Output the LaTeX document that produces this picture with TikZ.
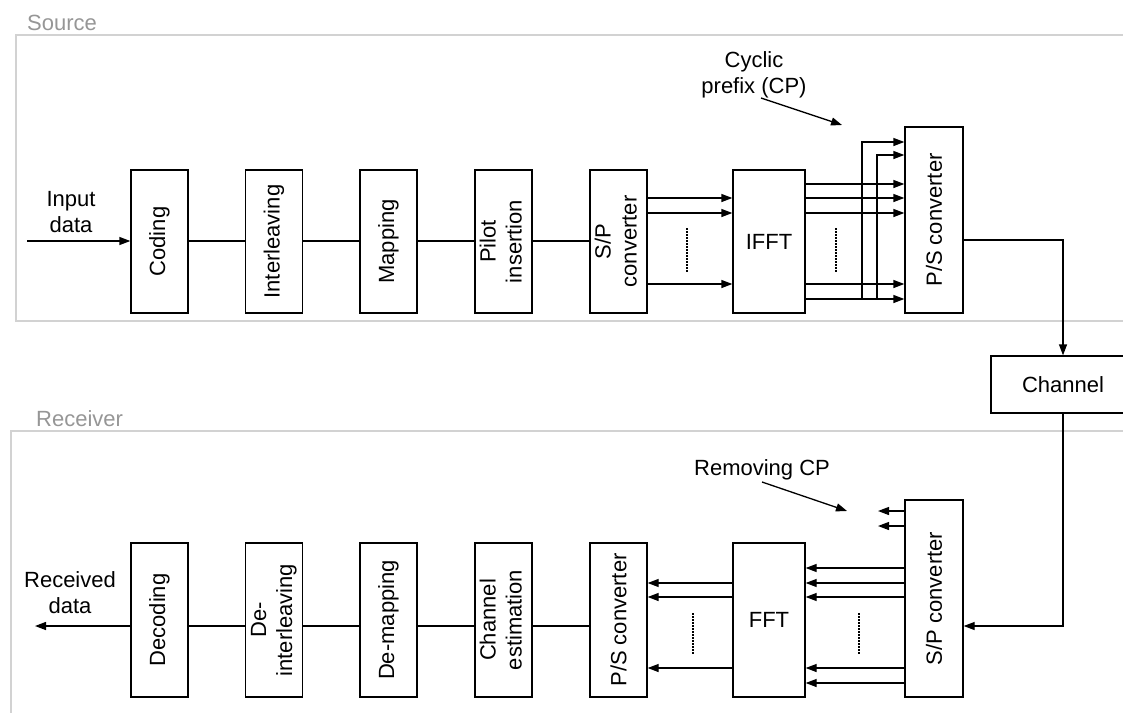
\documentclass[tikz,border=0pt]{standalone}
\usepackage{fontspec}
\setmainfont{Liberation Sans}
\usetikzlibrary{arrows.meta}
\definecolor{framegray}{RGB}{210,210,210}
\definecolor{labelgray}{RGB}{150,150,150}
\newcommand\twol[2]{\begin{tabular}[b]{@{}c@{}}#1\\#2\end{tabular}}
\begin{document}
\begin{tikzpicture}[x=1pt,y=-1pt,
  every node/.style={font=\fontsize{22}{26}\selectfont},
  blk/.style={draw, line width=1.3pt, fill=white, inner sep=0pt, minimum width=57pt},
  ln/.style={line width=1.3pt},
  arr/.style={line width=1.3pt, -{Triangle[length=11pt,width=8pt]}},
  frm/.style={draw=framegray, line width=1.5pt},
  dots/.style={line width=1.3pt, dash pattern=on 1.5pt off 1.5pt},
]
\useasboundingbox (0,0) rectangle (1123,712);
\clip (0,0) rectangle (1123,712);
% frames
\draw[frm] (16,35) rectangle (1160,321);
\draw[frm] (11,431) rectangle (1160,760);
\node[text=labelgray, anchor=base west, inner sep=0] (srclab) at (27,30) {Source};
\node[text=labelgray, anchor=base west, inner sep=0] (rcvlab) at (36,426) {Receiver};
\coordinate (yA) at (0,241);
\coordinate (yB) at (0,626);
% transmitter blocks
\node[blk, minimum height=143pt] (coding) at (159.5,241.5) {\rotatebox{90}{Coding}};
\node[blk, minimum height=143pt] (inter) at (274,241.5) {\rotatebox{90}{Interleaving}};
\node[blk, minimum height=143pt] (mapping) at (388.5,241.5) {\rotatebox{90}{Mapping}};
\node[blk, minimum height=143pt] (pilot) at (503.5,241.5) {\rotatebox{90}{\twol{Pilot}{insertion}}};
\node[blk, minimum height=143pt] (sp) at (618.5,241.5) {\rotatebox{90}{\twol{S/P}{converter}}};
\node[blk, minimum height=143pt, minimum width=72pt] (ifft) at (769,241.5) {IFFT};
\node[blk, minimum height=186pt, minimum width=58pt] (ps) at (934,220) {\rotatebox{90}{P/S converter}};
% channel
\node[blk, minimum height=57pt, minimum width=144pt] (chan) at (1063,384.5) {Channel};
% receiver blocks
\node[blk, minimum height=154pt] (decoding) at (159.5,620) {\rotatebox{90}{Decoding}};
\node[blk, minimum height=154pt] (deinter) at (274,620) {\rotatebox{90}{\twol{De-}{interleaving}}};
\node[blk, minimum height=154pt] (demap) at (388.5,620) {\rotatebox{90}{De-mapping}};
\node[blk, minimum height=154pt] (chest) at (503.5,620) {\rotatebox{90}{\twol{Channel}{estimation}}};
\node[blk, minimum height=154pt] (ps2) at (618.5,620) {\rotatebox{90}{P/S converter}};
\node[blk, minimum height=154pt, minimum width=72pt] (fft) at (769,620) {FFT};
\node[blk, minimum height=197pt, minimum width=58pt] (sp2) at (934,598.5) {\rotatebox{90}{S/P converter}};
% labels
\node[anchor=base, inner sep=0] (inlab) at (71,232) {\twol{Input}{data}};
\node[anchor=base, inner sep=0] (outlab) at (70,613) {\twol{Received}{data}};
\node[anchor=base, inner sep=0] (cplab) at (754,93) {\twol{Cyclic}{prefix (CP)}};
\node[anchor=base, inner sep=0] (rmlab) at (762,475) {Removing CP};
% transmitter connections
\coordinate (instart) at (27,241);
\draw[arr] (instart) -- (coding.west |- yA);
\draw[ln] (coding.east |- yA) -- (inter.west |- yA);
\draw[ln] (inter.east |- yA) -- (mapping.west |- yA);
\draw[ln] (mapping.east |- yA) -- (pilot.west |- yA);
\draw[ln] (pilot.east |- yA) -- (sp.west |- yA);
\foreach \y in {198,213,284} \draw[arr] (sp.east |- 0,\y) -- (ifft.west |- 0,\y);
\foreach \y in {184,198,213,284,299} \draw[arr] (ifft.east |- 0,\y) -- (ps.west |- 0,\y);
\coordinate (cpa) at (862,299);
\coordinate (cpb) at (877,299);
\draw[arr] (cpa) -- (862,142) -- (ps.west |- 0,142);
\draw[arr] (cpb) -- (877,155) -- (ps.west |- 0,155);
\draw[dots] (687,228) -- (687,272);
\draw[dots] (836,228) -- (836,272);
\coordinate (cpfrom) at (761,98);
\coordinate (cpto) at (842,125);
\draw[arr] (cpfrom) -- (cpto);
% channel
\draw[arr] (ps.east |- 0,240) -| (chan.north);
\draw[arr] (chan.south) |- (sp2.east |- yB);
% receiver connections
\foreach \y in {568,583,597,668,683} \draw[arr] (sp2.west |- 0,\y) -- (fft.east |- 0,\y);
\foreach \y in {583,597,668} \draw[arr] (fft.west |- 0,\y) -- (ps2.east |- 0,\y);
\coordinate (rc1) at (878,511);
\coordinate (rc2) at (878,526);
\draw[arr] (sp2.west |- rc1) -- (rc1);
\draw[arr] (sp2.west |- rc2) -- (rc2);
\draw[dots] (693,613) -- (693,655);
\draw[dots] (859,613) -- (859,655);
\coordinate (rmfrom) at (762,482);
\coordinate (rmto) at (847,511);
\draw[arr] (rmfrom) -- (rmto);
\draw[ln] (ps2.west |- yB) -- (chest.east |- yB);
\draw[ln] (chest.west |- yB) -- (demap.east |- yB);
\draw[ln] (demap.west |- yB) -- (deinter.east |- yB);
\draw[ln] (deinter.west |- yB) -- (decoding.east |- yB);
\coordinate (outend) at (35,626);
\draw[arr] (decoding.west |- yB) -- (outend);
\end{tikzpicture}
\end{document}
